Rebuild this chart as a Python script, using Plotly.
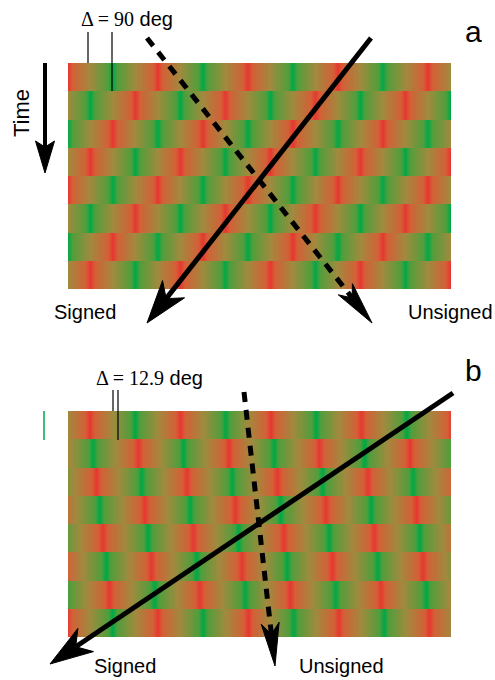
import numpy as np
import plotly.graph_objects as go

# ---------------- data ----------------
row_count = 8
period_px_a = 90.0
period_px_b = 90.5
red_peak_px_a = 68.0
red_peak_px_b = 90.0
# leftward phase shift of each row (degrees) relative to first row
row_phase_deg_a = [0, 90, 180, 270, 360, 450, 540, 630]
row_phase_deg_b = [0, 167.1, 334.2, 501.3, 668.4, 835.5, 1002.6, 1169.7]
delta_values = ["90", "12.9"]
panel_labels = ["a", "b"]
direction_labels = ["Signed", "Unsigned"]

# ---------------- layout geometry ----------------
W, H = 495, 680
img_x0, img_x1 = 68, 451
panel_top = [63, 411]
row_h = 28.25

SANS = "Liberation Sans, Arial, Helvetica, sans-serif"
SERIF = "Liberation Serif, Times New Roman, serif"

colorscale = [
    [0.0, "rgb(0,168,70)"],
    [0.1, "rgb(80,158,60)"],
    [0.5, "rgb(160,138,62)"],
    [0.9, "rgb(212,95,55)"],
    [1.0, "rgb(230,55,48)"],
]


def pattern(period, red_peak, phases):
    xs = np.arange(img_x0, img_x1) + 0.5
    z = []
    for ph in phases:
        peak = red_peak - ph / 360.0 * period
        f = np.mod((xs - peak) / period, 1.0)
        z.append(np.abs(2 * f - 1))
    return np.array(z)


fig = go.Figure()
for top, per, rp, phs in [
    (panel_top[0], period_px_a, red_peak_px_a, row_phase_deg_a),
    (panel_top[1], period_px_b, red_peak_px_b, row_phase_deg_b),
]:
    fig.add_trace(go.Heatmap(
        z=pattern(per, rp, phs), x0=img_x0 + 0.5, dx=1,
        y0=top + row_h / 2, dy=row_h,
        colorscale=colorscale, zmin=0, zmax=1, showscale=False,
        zsmooth=False, hoverinfo="skip"))


def head(tip, frm, L, Wd, notch):
    tip = np.array(tip, float)
    frm = np.array(frm, float)
    d = (tip - frm) / np.linalg.norm(tip - frm)
    n = np.array([-d[1], d[0]])
    base = tip - d * L
    b1 = base + n * Wd
    b2 = base - n * Wd
    nt = tip - d * notch
    poly = np.array([tip, b1, nt, b2, tip])
    return poly, nt


def arrow(start, tip, dash=None, L=43, Wd=14, notch=31, lw=5):
    poly, nt = head(tip, start, L, Wd, notch)
    fig.add_trace(go.Scatter(
        x=[start[0], nt[0]], y=[start[1], nt[1]], mode="lines",
        line=dict(color="black", width=lw, dash=dash),
        hoverinfo="skip", showlegend=False))
    fig.add_trace(go.Scatter(
        x=poly[:, 0], y=poly[:, 1], mode="lines", fill="toself",
        fillcolor="black", line=dict(color="black", width=1),
        hoverinfo="skip", showlegend=False))


# panel a arrows
arrow((371, 38), (147, 323))
arrow((147, 38), (372, 323), dash="10px,8px", Wd=9, notch=32)
# panel b arrows
arrow((453, 393), (50, 664))
arrow((244, 392), (275, 666), dash="10px,8px", Wd=9, notch=32)
# time arrow
arrow((45, 63), (45, 173), L=32, Wd=9.5, notch=26, lw=4)

# delta marker lines
for x, y0, y1 in [(88, 32, 63), (112, 32, 91), (113, 390, 411), (118, 390, 440)]:
    fig.add_trace(go.Scatter(x=[x, x], y=[y0, y1], mode="lines",
                             line=dict(color="black", width=1.2),
                             hoverinfo="skip", showlegend=False))
fig.add_trace(go.Scatter(x=[44, 44], y=[411, 440], mode="lines",
                         line=dict(color="rgb(0,170,70)", width=1.5),
                         hoverinfo="skip", showlegend=False))

ann = []
def txt(x, y, t, size, family=SANS, angle=0):
    ann.append(dict(x=x, y=y, xref="x", yref="y", text=t, showarrow=False,
                    font=dict(family=family, size=size, color="black"),
                    textangle=angle, xanchor="center", yanchor="middle"))

txt(127, 19, f"<span style='font-family:{SERIF}'>Δ = {delta_values[0]}</span> deg", 20)
txt(149, 378, f"<span style='font-family:{SERIF}'>Δ = {delta_values[1]}</span> deg", 20)
txt(473, 31, panel_labels[0], 30)
txt(473, 370, panel_labels[1], 30)
txt(21, 113, "Time", 22, angle=-90)
txt(85, 312, direction_labels[0], 20)
txt(450, 312, direction_labels[1], 20)
txt(125, 666, direction_labels[0], 20)
txt(341, 666, direction_labels[1], 20)

fig.update_layout(
    width=W, height=H, margin=dict(l=0, r=0, t=0, b=0),
    paper_bgcolor="white", plot_bgcolor="white", showlegend=False,
    xaxis=dict(range=[0, W], visible=False, fixedrange=True),
    yaxis=dict(range=[H, 0], visible=False, fixedrange=True),
    annotations=ann,
)
fig.write_html("out.html", config={"displayModeBar": False},
               post_script="document.body.style.margin='0px';document.body.style.overflow='hidden';")
